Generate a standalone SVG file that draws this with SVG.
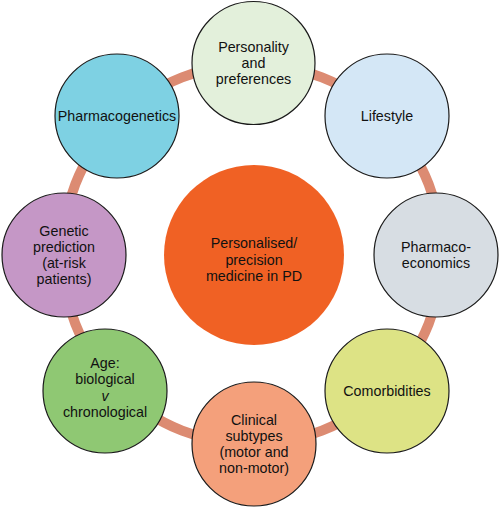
<svg xmlns="http://www.w3.org/2000/svg" width="500" height="508" viewBox="0 0 500 508">
<style>
.n{stroke:#1a1a1a;stroke-width:1.2}
text{font-family:"Liberation Sans",Arial,sans-serif;font-size:14.3px;fill:#111;text-anchor:middle}
</style>
<rect width="500" height="508" fill="#fff"/>
<g id="connectors">
<circle cx="252" cy="254" r="190" fill="none" stroke="#DC8B72" stroke-width="10"/>
</g>
<g id="center">
<circle cx="254" cy="255" r="90" fill="#F06124"/>
<text x="254" y="248">Personalised/</text>
<text x="254" y="264.5">precision</text>
<text x="254" y="281">medicine in PD</text>
</g>
<g id="personality">
<circle class="n" cx="253.5" cy="63" r="61.5" fill="#E3F0DB"/>
<text x="253.5" y="52">Personality</text>
<text x="253.5" y="68">and</text>
<text x="253.5" y="84">preferences</text>
</g>
<g id="lifestyle">
<circle class="n" cx="387" cy="116" r="62" fill="#D4E7F6"/>
<text x="387" y="121">Lifestyle</text>
</g>
<g id="pharmacoeconomics">
<circle class="n" cx="436" cy="255" r="62" fill="#D7DDE3"/>
<text x="436" y="252">Pharmaco-</text>
<text x="436" y="268">economics</text>
</g>
<g id="comorbidities">
<circle class="n" cx="387" cy="391" r="62" fill="#DDE385"/>
<text x="387" y="396">Comorbidities</text>
</g>
<g id="clinical">
<circle class="n" cx="254" cy="444" r="62" fill="#F4A07B"/>
<text x="254" y="424.5">Clinical</text>
<text x="254" y="440.5">subtypes</text>
<text x="254" y="456.5">(motor and</text>
<text x="254" y="472.5">non-motor)</text>
</g>
<g id="age">
<circle class="n" cx="105" cy="391" r="62" fill="#8FC873"/>
<text x="105" y="367.5">Age:</text>
<text x="105" y="384">biological</text>
<text x="105" y="400.5" font-style="italic">v</text>
<text x="105" y="417">chronological</text>
</g>
<g id="genetic">
<circle class="n" cx="64" cy="255" r="62" fill="#C597C6"/>
<text x="64" y="235.5">Genetic</text>
<text x="64" y="251.5">prediction</text>
<text x="64" y="267.5">(at-risk</text>
<text x="64" y="284">patients)</text>
</g>
<g id="pharmacogenetics">
<circle class="n" cx="117" cy="116" r="62" fill="#7ED1E3"/>
<text x="117" y="121">Pharmacogenetics</text>
</g>
</svg>
